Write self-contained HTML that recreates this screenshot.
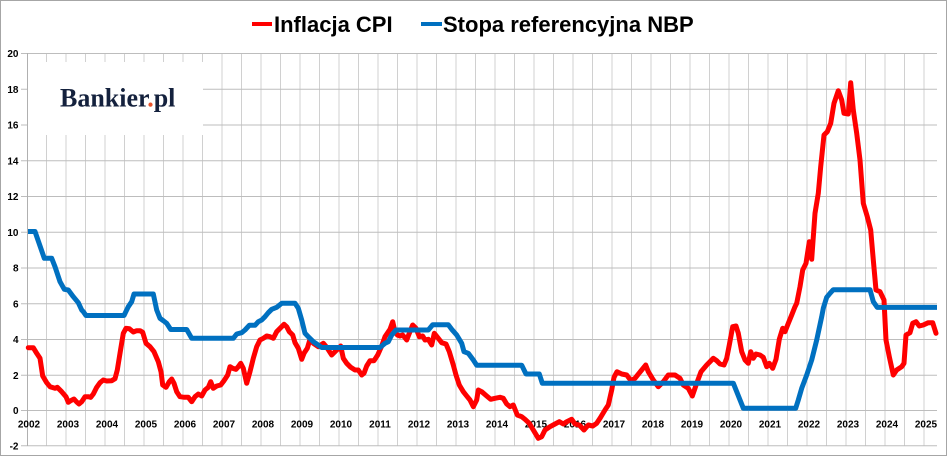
<!DOCTYPE html>
<html>
<head>
<meta charset="utf-8">
<style>
html,body{margin:0;padding:0;background:#fff;}
svg{display:block;}
text{font-family:"Liberation Sans",Arial,sans-serif;}
</style>
</head>
<body>
<svg width="948" height="458" viewBox="0 0 948 458" xmlns="http://www.w3.org/2000/svg">
<rect x="0" y="0" width="948" height="458" fill="#fff"/>
<rect x="0.5" y="0.5" width="946" height="455" fill="none" stroke="#a6a6a6" stroke-width="1"/>

<!-- vertical gridlines -->
<g stroke="#d0d0d0" stroke-width="1">
<line x1="46.5" y1="53" x2="46.5" y2="446"/><line x1="66" y1="53" x2="66" y2="446"/><line x1="85.5" y1="53" x2="85.5" y2="446"/><line x1="105" y1="53" x2="105" y2="446"/><line x1="124.5" y1="53" x2="124.5" y2="446"/><line x1="144" y1="53" x2="144" y2="446"/><line x1="163.5" y1="53" x2="163.5" y2="446"/><line x1="183" y1="53" x2="183" y2="446"/><line x1="202.5" y1="53" x2="202.5" y2="446"/><line x1="222" y1="53" x2="222" y2="446"/><line x1="241.5" y1="53" x2="241.5" y2="446"/><line x1="261" y1="53" x2="261" y2="446"/><line x1="280.5" y1="53" x2="280.5" y2="446"/><line x1="300" y1="53" x2="300" y2="446"/><line x1="319.5" y1="53" x2="319.5" y2="446"/><line x1="339" y1="53" x2="339" y2="446"/><line x1="358.5" y1="53" x2="358.5" y2="446"/><line x1="378" y1="53" x2="378" y2="446"/><line x1="397.5" y1="53" x2="397.5" y2="446"/><line x1="417" y1="53" x2="417" y2="446"/><line x1="436.5" y1="53" x2="436.5" y2="446"/><line x1="456" y1="53" x2="456" y2="446"/><line x1="475.5" y1="53" x2="475.5" y2="446"/><line x1="495" y1="53" x2="495" y2="446"/><line x1="514.5" y1="53" x2="514.5" y2="446"/><line x1="534" y1="53" x2="534" y2="446"/><line x1="553.5" y1="53" x2="553.5" y2="446"/><line x1="573" y1="53" x2="573" y2="446"/><line x1="592.5" y1="53" x2="592.5" y2="446"/><line x1="612" y1="53" x2="612" y2="446"/><line x1="631.5" y1="53" x2="631.5" y2="446"/><line x1="651" y1="53" x2="651" y2="446"/><line x1="670.5" y1="53" x2="670.5" y2="446"/><line x1="690" y1="53" x2="690" y2="446"/><line x1="709.5" y1="53" x2="709.5" y2="446"/><line x1="729" y1="53" x2="729" y2="446"/><line x1="748.5" y1="53" x2="748.5" y2="446"/><line x1="768" y1="53" x2="768" y2="446"/><line x1="787.5" y1="53" x2="787.5" y2="446"/><line x1="807" y1="53" x2="807" y2="446"/><line x1="826.5" y1="53" x2="826.5" y2="446"/><line x1="846" y1="53" x2="846" y2="446"/><line x1="865.5" y1="53" x2="865.5" y2="446"/><line x1="885" y1="53" x2="885" y2="446"/><line x1="904.5" y1="53" x2="904.5" y2="446"/><line x1="924" y1="53" x2="924" y2="446"/>
</g>
<!-- horizontal gridlines -->
<g stroke="#bdbdbd" stroke-width="1">
<line x1="21" y1="53.5" x2="937" y2="53.5"/>
<line x1="21" y1="89.3" x2="937" y2="89.3"/>
<line x1="21" y1="125" x2="937" y2="125"/>
<line x1="21" y1="160.8" x2="937" y2="160.8"/>
<line x1="21" y1="196.5" x2="937" y2="196.5"/>
<line x1="21" y1="232.3" x2="937" y2="232.3"/>
<line x1="21" y1="268" x2="937" y2="268"/>
<line x1="21" y1="303.8" x2="937" y2="303.8"/>
<line x1="21" y1="339.5" x2="937" y2="339.5"/>
<line x1="21" y1="375.3" x2="937" y2="375.3"/>
<line x1="21" y1="410.5" x2="937" y2="410.5"/>
<line x1="21" y1="445.8" x2="937" y2="445.8"/>
</g>
<line x1="27.5" y1="53" x2="27.5" y2="446" stroke="#b0b0b0" stroke-width="1"/>

<!-- logo box -->
<rect x="28" y="62" width="175" height="73" fill="#fff"/>
<text x="60" y="106.7" font-family="'Liberation Serif',serif" font-weight="bold" font-size="26" fill="#14213d" style="font-family:'Liberation Serif',serif">Bankier<tspan fill="#e8532b">.</tspan>pl</text>

<!-- y labels -->
<g font-size="10" font-weight="bold" fill="#000" text-anchor="end">
<text x="18.5" y="57">20</text>
<text x="18.5" y="92.8">18</text>
<text x="18.5" y="128.5">16</text>
<text x="18.5" y="164.3">14</text>
<text x="18.5" y="200">12</text>
<text x="18.5" y="235.8">10</text>
<text x="18.5" y="271.5">8</text>
<text x="18.5" y="307.3">6</text>
<text x="18.5" y="343">4</text>
<text x="18.5" y="378.8">2</text>
<text x="18.5" y="414">0</text>
<text x="18.5" y="449.3">-2</text>
</g>

<!-- x labels -->
<g font-size="10" font-weight="bold" fill="#000" text-anchor="middle">
<text x="29" y="427.5">2002</text><text x="68" y="427.5">2003</text><text x="107" y="427.5">2004</text><text x="146" y="427.5">2005</text><text x="185" y="427.5">2006</text><text x="224" y="427.5">2007</text><text x="263" y="427.5">2008</text><text x="302" y="427.5">2009</text><text x="341" y="427.5">2010</text><text x="380" y="427.5">2011</text><text x="419" y="427.5">2012</text><text x="458" y="427.5">2013</text><text x="497" y="427.5">2014</text><text x="536" y="427.5">2015</text><text x="575" y="427.5">2016</text><text x="614" y="427.5">2017</text><text x="653" y="427.5">2018</text><text x="692" y="427.5">2019</text><text x="731" y="427.5">2020</text><text x="770" y="427.5">2021</text><text x="809" y="427.5">2022</text><text x="848" y="427.5">2023</text><text x="887" y="427.5">2024</text><text x="926" y="427.5">2025</text>
</g>

<!-- CPI -->
<polyline fill="none" stroke="#ff0000" stroke-width="5" stroke-linejoin="round" stroke-linecap="round" points="28.3,347.7 33.3,347.7 36.7,353.3 40,358.3 42.7,376 46.7,382.7 50,386.7 55,388.3 57.3,387.3 61.7,391.7 66,396.7 68.3,402.3 70.7,400.7 74,399 76.7,402 79,404 81.7,401.7 85,396.7 88.3,396.7 90.7,397.3 93.3,394 96.7,387.3 100,382.7 103.3,380 106.7,381 111.7,380.7 115,378.7 117.3,370 120,353.3 123.3,333.3 126,328.3 129.3,328.7 133.3,332 136.7,330.7 140,330.7 142.7,332.3 146,343.3 150,346.7 154,351.7 158.3,361.7 161,371.7 162.7,385 166,387.3 169.3,381.7 171.7,379 174,383.3 176.7,391.7 180,396.7 184.3,397.3 188.3,397.3 191.7,401.7 195,396.7 198.3,394 201.7,396 205,390 208.3,387.3 210.7,381.7 213.3,388.3 216.7,386 220.7,385 224,380.7 227.7,375 230,366.7 232.7,368.3 236,369.3 238.3,366.7 240.7,363.3 243.3,368.3 246.7,383.3 250,371.7 253.3,358.3 256.7,346.7 260,340 263.3,338.3 266.7,336 270,336.7 273.3,338.3 276.7,331.7 281.7,326.7 284,324.3 286.7,326.7 289.3,331.7 292.7,335 295,342.7 298.3,348.3 301.7,359.3 304,353.3 307.3,348.3 310,339.3 313.3,343.3 318.3,346.7 323.3,343.3 326.7,347.3 331.7,355 336.7,350 340.7,346 343.3,358.3 346.7,363.3 350.7,367.3 355,370 358.3,370 361.7,375 364,373.3 366.7,366 370,360.7 374,360.7 377.7,355 381.7,346 385,336.7 390,329.3 392.7,321.7 395,331.7 397.3,335 400,336 402.7,335 406.7,340 409.3,333.3 412.7,325 416,328.3 419.3,336.7 422.7,336 425,340 428.3,339.3 431.7,345 434.3,333.3 438.3,338.3 441.7,342.7 446,344 449.3,351.7 453.3,365 456,375 459.3,385 463.3,391.7 466.7,396 470,400 473.3,406.7 476.7,400 478.3,390 481.7,391.7 486.7,396 490.7,399.3 495,398.3 500,397.3 503.3,398.3 506.7,404 510,406.7 513.3,405 517.3,415 521.7,416.7 525,419.3 529.3,423.3 533.3,430 538.3,438.3 541.7,436.7 545,430 550,426.7 555,424 559.3,421.7 563.3,424 566.7,421.7 571.7,419.3 575,424 579.3,425 584,430 588.3,425 592.7,426 596.7,423.3 600,418.3 605,410 608.3,405 611.7,390 614,377.3 617,371.7 621.7,374 626.7,375 631,380.7 635,378.3 639,373.3 641.7,370 645.7,365 648.3,371.7 653.3,380 658.3,386.7 663.3,381.7 668.3,375 675,375 680,378.3 683.3,385 688.3,388.3 692.3,396 696.7,383.3 701,371.7 706.7,365 710,361.7 713.3,358.3 716.7,360.7 720,364 724,365 726.7,358.3 729.3,345 732.7,326.7 736,326 738.3,333.3 741.7,351.7 745,360 748.3,363.3 750.7,351.7 753.3,358.3 756,354 760,355 763.3,357.3 766.7,366.7 769.3,363.3 772.7,368.3 776,359.3 779.3,339.3 782.7,328.3 785,331.7 788.3,323.3 791.7,315 795,306.7 796.7,303.3 800,286.7 802.7,270 806,263.3 809.3,241.7 811.7,259.3 815,213.3 818.3,193.3 820.7,166.7 824,135 827.3,131.7 830.7,123.3 834,103.3 838.3,90.7 841.7,100 844,113.3 848.3,114 850.7,82.7 853.3,110 856.7,133.3 860,160 863.3,203.3 867.3,216.7 870.7,230 873.3,260 876,290 880,291.7 884,300 886,340 889.3,356.7 893.3,375 896.7,370 901.7,366.7 904,363.3 906,335 910,332.7 912.7,323.3 916,321.7 919.3,326 923.3,325 928.3,322.7 932.7,322.7 936,333.3"/>

<!-- NBP rate -->
<polyline fill="none" stroke="#0070c0" stroke-width="5" stroke-linejoin="round" stroke-linecap="butt" points="28,231.5 35,231.5 44.3,258.3 51.7,258.3 55,266.7 60,281.7 64.3,289.3 68.3,290 73.3,296.7 78.3,302.7 81.7,310 83.3,311.7 86,315.5 124,315.5 128.3,306.7 131.7,301.7 134,294 153.3,294 156.7,310 160,318.3 163.3,320.7 166.7,323.3 170.7,329.5 186.7,329.5 191.7,338.3 233.3,338.3 236.7,334 241.7,332.7 245,330 249.3,325.3 255,325.3 258.3,321.7 261.7,320 265,316.7 268.3,312.7 271.7,309.3 276.7,307.3 281.7,303.3 295,303.3 298.3,308.3 301.7,320 305,333.3 308.3,336.7 313.3,341.7 316.7,344 321.7,347.5 380,347.5 385,343.3 388.3,341.7 391.7,335 396,330 428.3,330 432.7,324.8 448.3,324.8 451.7,329.3 456.7,335 461.7,343.3 464,351.7 468.3,353.3 473.3,360 476.7,365.2 521.7,365.2 526,374 539.3,374 542.3,383.2 733.3,383.2 743.3,408.2 795.7,408.2 798.3,400 801.7,388.3 806.7,375 811.7,360 816.7,340 821.7,316.7 823.3,308.3 826.7,297.3 830,293.3 833.3,289.7 870,289.7 873.3,301.7 877.3,307.4 937,307.4"/>

<!-- legend -->
<line x1="252" y1="24" x2="272" y2="24" stroke="#ff0000" stroke-width="4"/>
<text x="274" y="32" font-size="22" font-weight="bold" fill="#000">Inflacja CPI</text>
<line x1="421" y1="24" x2="442" y2="24" stroke="#0070c0" stroke-width="4"/>
<text x="443" y="32" font-size="22" font-weight="bold" fill="#000">Stopa referencyjna NBP</text>
</svg>
</body>
</html>
